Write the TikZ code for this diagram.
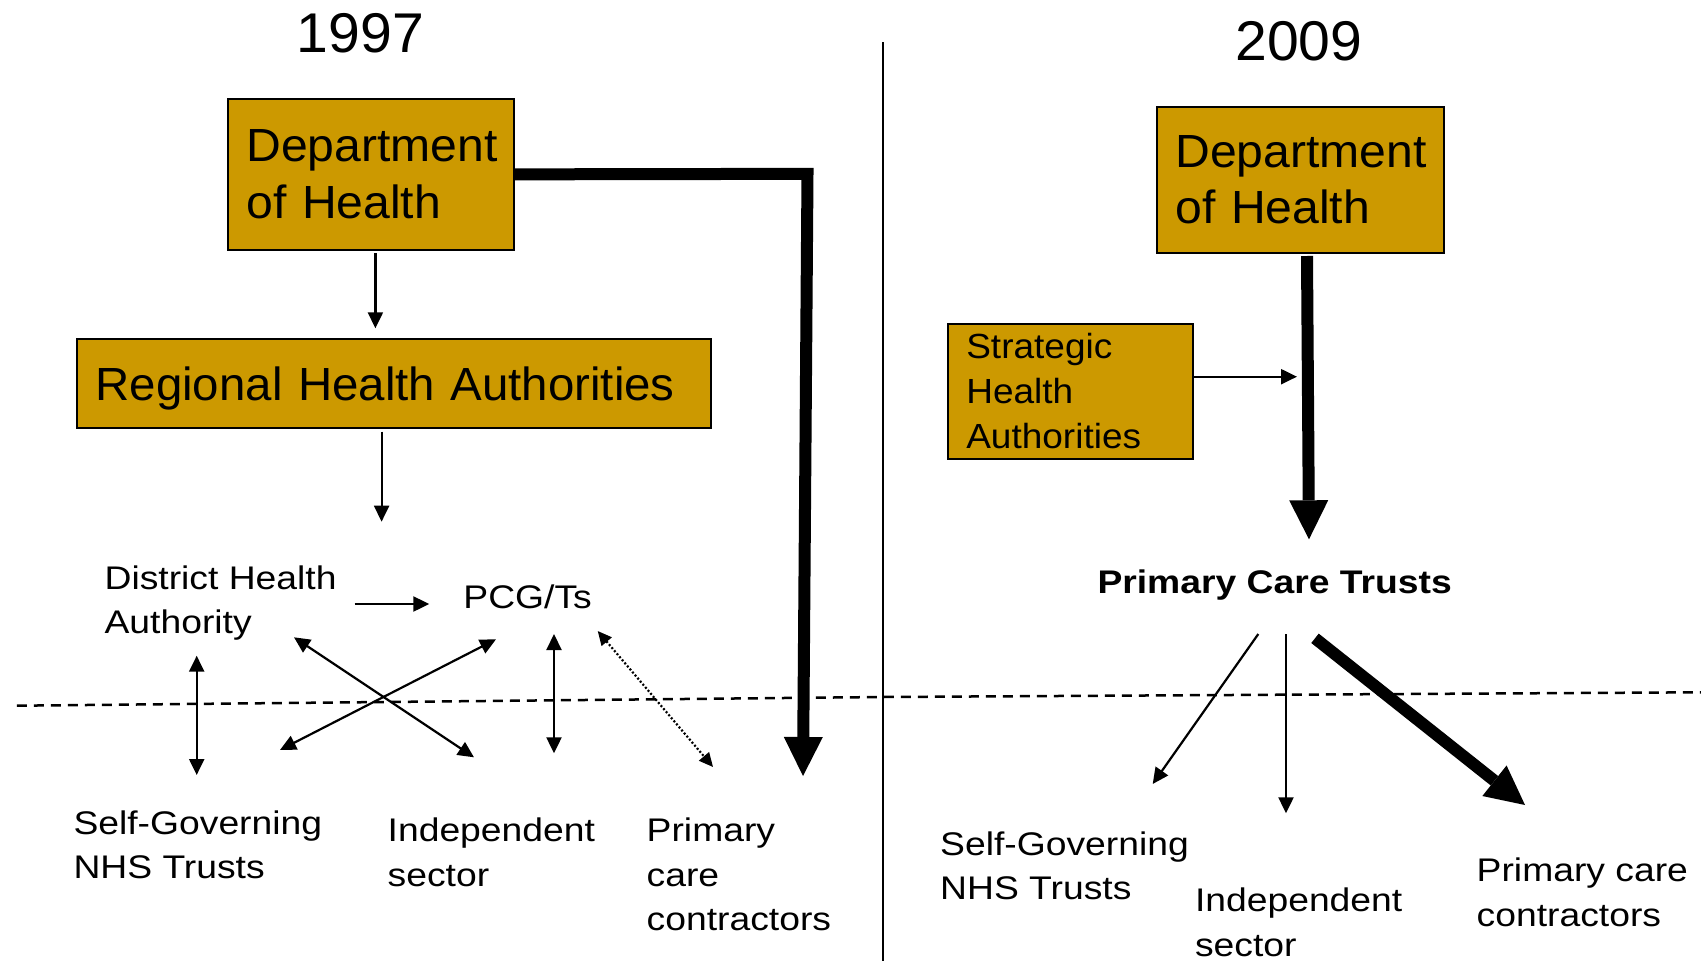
\documentclass[tikz,border=0pt]{standalone}
\usepackage{fontspec}
\setmainfont{Liberation Sans}
\newfontfamily\fA{Liberation Sans}[FakeStretch=1.14]
\newfontfamily\fB{Liberation Sans}[FakeStretch=1.02]
\newfontfamily\fD{Liberation Sans}[FakeStretch=1.035]
\newfontfamily\fC{Liberation Sans}[FakeStretch=1.06]
\newfontfamily\fE{Liberation Sans Bold}[FakeStretch=1.14]
\usetikzlibrary{arrows.meta}
\definecolor{boxgold}{HTML}{CC9900}
\newcommand{\hrl}{\rule{0pt}{26pt}}
\begin{document}
\begin{tikzpicture}[x=1pt,y=-1pt,
  box/.style={draw=black, line width=2pt, fill=boxgold, align=left, inner ysep=0pt, anchor=north west},
  bigbox/.style={box, font=\fD\fontsize{46.5}{56.7}\selectfont},
  lbl/.style={font=\fA\fontsize{32.7}{44.5}\selectfont, align=left, inner sep=0pt, anchor=north west},
  title/.style={font=\fB\fontsize{56}{60}\selectfont, inner sep=0pt, anchor=base},
  thinarr/.style={line width=2.2pt, -{Triangle[length=16pt,width=15pt]}},
  dblarr/.style={line width=2.2pt, {Triangle[length=16pt,width=15pt]}-{Triangle[length=16pt,width=15pt]}},
  dotarr/.style={line width=2.2pt, dash pattern=on 2pt off 2pt, {Triangle[length=14pt,width=13pt]}-{Triangle[length=14pt,width=13pt]}},
  thickarr/.style={line width=12pt, line join=miter, -{Triangle[length=39pt,width=39pt,line width=0pt]}},
]
\useasboundingbox (0,0) rectangle (1701,961);

% titles
\node[title] (y97) at (360.5,52.7) {1997};
\node[title] (y09) at (1299,60.7) {2009};

% 1997 boxes
\node[bigbox, minimum width=285.9pt, minimum height=150.3pt, inner xsep=18.2pt, text width=249.5pt] (doh1) at (227.2,98.2) {\mbox{Department}\\\mbox{of Health}};
\node[box, font=\fB\fontsize{46.5}{56.7}\selectfont, minimum width=634.4pt, minimum height=89.6pt, inner xsep=18.7pt, text width=597pt, text depth=0pt] (rha) at (75.7,337.7) {\mbox{Regional Health Authorities}};

% 1997 labels
\node[lbl] (dha) at (104.4,563) {\hrl District Health\\Authority};
\node[font=\fA\fontsize{32.7}{44.5}\selectfont, inner sep=0pt, anchor=base west] (pcg) at (463.2,608) {PCG/Ts};
\node[lbl] (sgt1) at (73.3,808) {\hrl Self-Governing\\NHS Trusts};
\node[lbl] (ind1) at (387.5,815.7) {\hrl Independent\\sector};
\node[lbl] (pcc1) at (646.5,815.7) {\hrl Primary\\care\\contractors};

% 2009 boxes
\node[bigbox, minimum width=286.6pt, minimum height=146.3pt, inner xsep=18.3pt, text width=250pt] (doh2) at (1156.1,105.5) {\mbox{Department}\\\mbox{of Health}};
\node[box, font=\fC\fontsize{34.9}{45}\selectfont, minimum width=244.2pt, minimum height=135.3pt, inner xsep=17.9pt, text width=208.4pt] (sha) at (947.4,322.7) {Strategic\\Health\\Authorities};

% 2009 labels
\node[font=\fE\fontsize{32.7}{44.5}\selectfont, inner sep=0pt, anchor=base west] (pct) at (1097.3,593.5) {Primary Care Trusts};
\node[lbl] (sgt2) at (940,829) {\hrl Self-Governing\\NHS Trusts};
\node[lbl] (ind2) at (1194.8,885.7) {\hrl Independent\\sector};
\node[lbl] (pcc2) at (1476.5,855.7) {\hrl Primary care\\contractors};

% divider and boundary
\coordinate (divtop) at (883,42.3);
\coordinate (divbot) at (883,961);
\draw[line width=2.5pt] (divtop) -- (divbot);
\coordinate (dl) at (16.8,705.7);
\coordinate (dm) at (883,697);
\coordinate (dr) at (1701,692.3);
\draw[line width=2.5pt, dash pattern=on 10pt off 7pt] (dl) -- (dm) -- (dr);

% 1997 connectors
\coordinate (a1s) at (375.4,253.3); \coordinate (a1e) at (375.4,328.3);
\draw[thinarr] (a1s) -- (a1e);
\coordinate (a2s) at (381.6,431.7); \coordinate (a2e) at (381.6,521.7);
\draw[thinarr] (a2s) -- (a2e);
\coordinate (a3s) at (354.7,604); \coordinate (a3e) at (429.3,604);
\draw[thinarr] (a3s) -- (a3e);
\coordinate (a4s) at (196.7,655.7); \coordinate (a4e) at (196.7,775);
\draw[dblarr] (a4s) -- (a4e);
\coordinate (a5s) at (294,637.3); \coordinate (a5e) at (474,757.3);
\draw[dblarr] (a5s) -- (a5e);
\coordinate (a6s) at (496,639.3); \coordinate (a6e) at (280,750);
\draw[dblarr] (a6s) -- (a6e);
\coordinate (a7s) at (554,634); \coordinate (a7e) at (554,753.3);
\draw[dblarr] (a7s) -- (a7e);
\coordinate (a8s) at (597.7,631); \coordinate (a8e) at (713,767);
\draw[dotarr] (a8s) -- (a8e);
\coordinate (t1c) at (807.5,173.85); \coordinate (t1e) at (803,776);
\draw[thickarr] (doh1.east) -- (t1c) -- (t1e);

% 2009 connectors
\coordinate (t2s) at (1307,256); \coordinate (t2e) at (1309,539.3);
\draw[thickarr] (t2s) -- (t2e);
\coordinate (b1s) at (1192.6,376.7); \coordinate (b1e) at (1297,376.7);
\draw[thinarr] (b1s) -- (b1e);
\coordinate (b2s) at (1258.3,634); \coordinate (b2e) at (1152.7,784);
\draw[thinarr] (b2s) -- (b2e);
\coordinate (b3s) at (1286,634); \coordinate (b3e) at (1286,813.3);
\draw[thinarr] (b3s) -- (b3e);
\coordinate (t3s) at (1315,638.3); \coordinate (t3e) at (1525,805);
\draw[thickarr] (t3s) -- (t3e);
\end{tikzpicture}
\end{document}
